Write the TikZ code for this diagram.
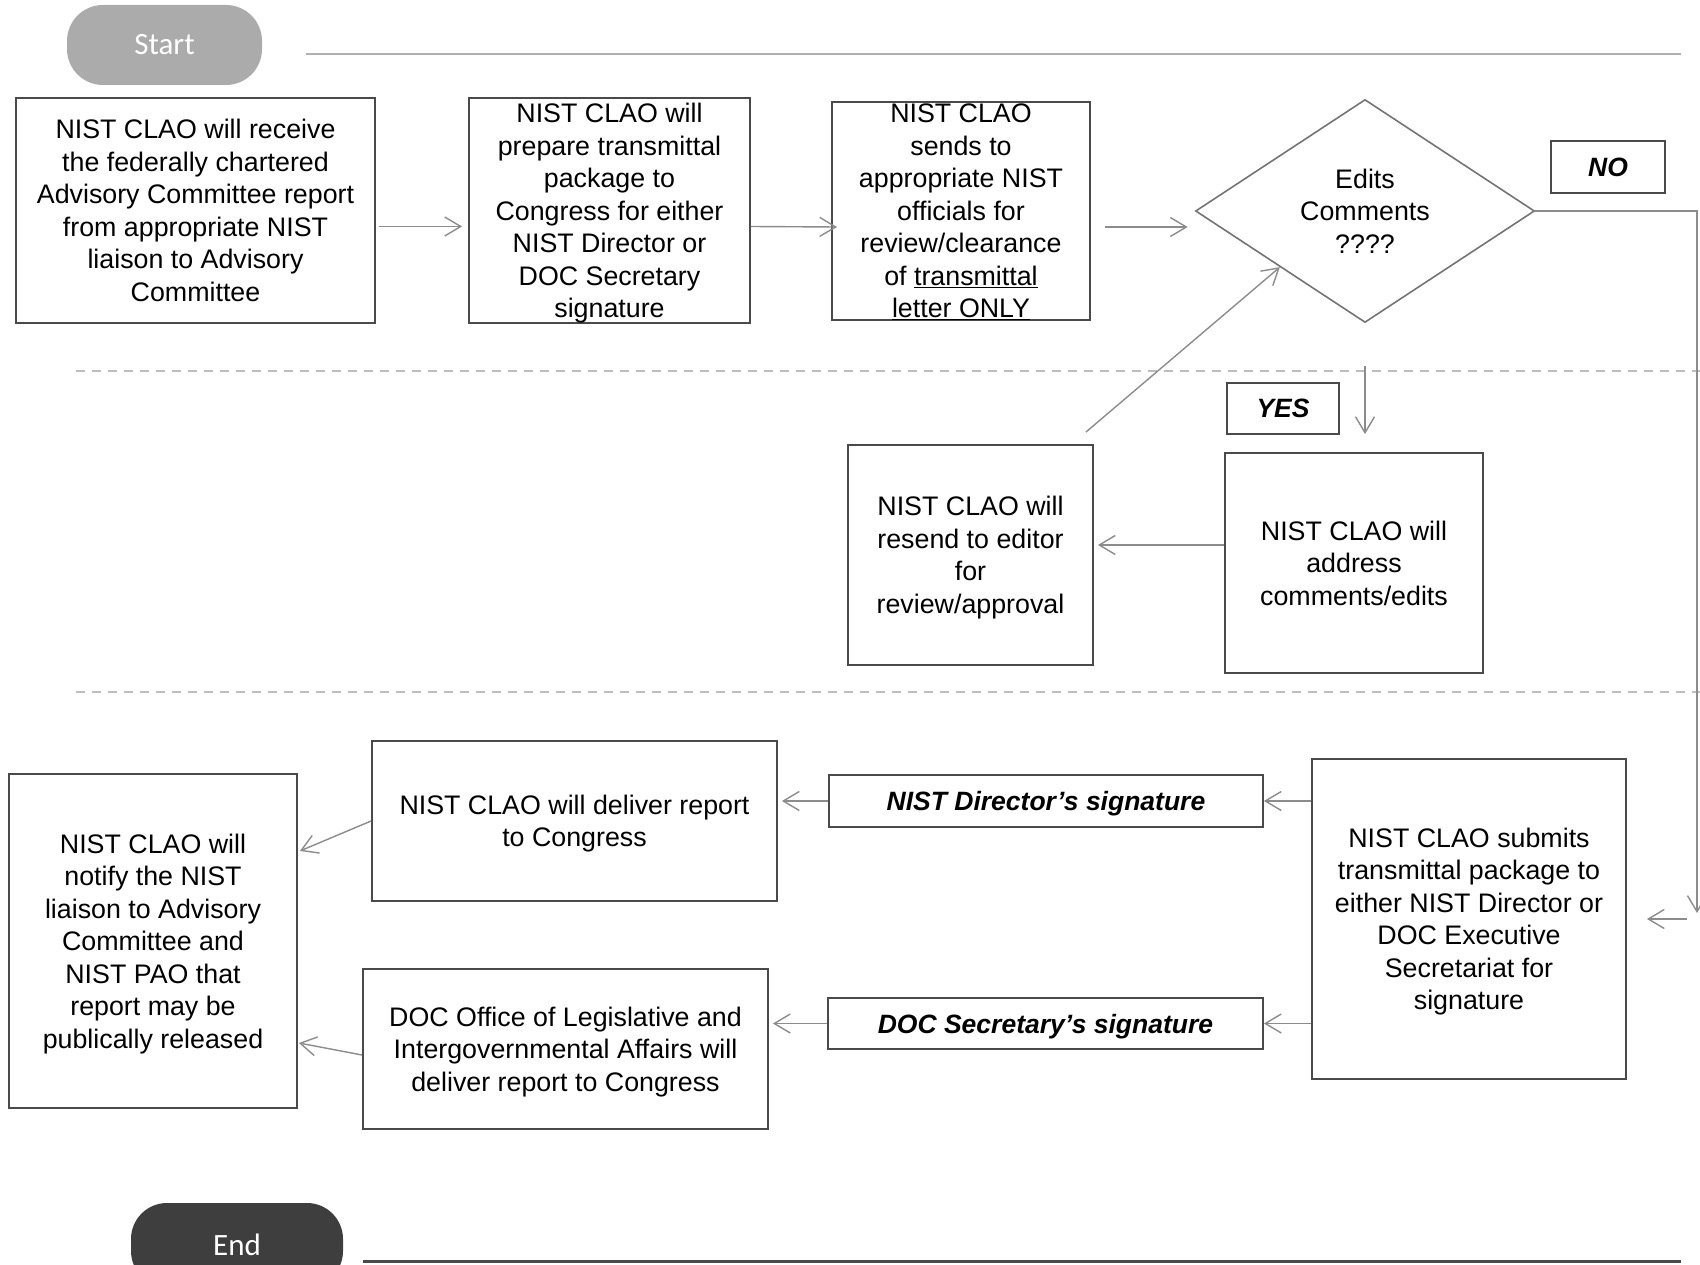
\documentclass[tikz,border=0pt]{standalone}
\usepackage{fontspec}
\setmainfont{Liberation Sans}
\newfontfamily\pillfont{Carlito}
\usetikzlibrary{shapes.geometric,arrows.meta,calc}
\definecolor{boxline}{HTML}{4A4A4A}
\definecolor{diaedge}{HTML}{747474}
\definecolor{conn}{HTML}{8C8C8C}
\definecolor{sepline}{HTML}{BDBDBD}
\definecolor{topline}{HTML}{B0B0B0}
\definecolor{startfill}{HTML}{ABABAB}
\definecolor{endfill}{HTML}{3E3E3E}
\begin{document}
\begin{tikzpicture}[x=1pt,y=-1pt,
  txt/.style={font=\fontsize{26.8}{32.5}\selectfont, text=black, align=center, inner sep=0pt, text depth=0pt},
  box/.style={txt, draw=boxline, line width=1.8pt, rectangle},
  tagbox/.style={box, font=\fontsize{26.5}{32.5}\selectfont\bfseries\itshape},
  pill/.style={rounded corners=36pt, text=white, font=\pillfont\fontsize{31}{36}\selectfont, inner sep=0pt},
  arr/.style={draw=conn, line width=1.4pt, -{Straight Barb[length=16pt,width=19pt,line width=1.4pt]}},
  sep/.style={draw=sepline, line width=1.3pt, dash pattern=on 9pt off 7pt},
]
\clip (0,0) rectangle (1700,1265);
\fill[white] (0,0) rectangle (1700,1265);

% separators
\draw[draw=topline, line width=1.3pt] (306,54) -- (1681,54);
\draw[sep] (76,371) -- (1700,371);
\draw[sep] (76,692) -- (1700,692);
\draw[draw=boxline, line width=3pt] (363,1261) -- (1681,1261);

% terminators
\node[pill, fill=startfill, minimum width=195pt, minimum height=80pt] (start) at (164.5,45) {Start};
\node[pill, fill=endfill, minimum width=212pt, minimum height=84pt] (endn) at (237,1245) {End};

% top row
\node[box, minimum width=359pt, minimum height=225pt] (b1) at (195.5,210.5)
  {NIST CLAO will receive\\the federally chartered\\Advisory Committee report\\from appropriate NIST\\liaison to Advisory\\Committee};
\node[box, minimum width=281pt, minimum height=225pt, inner ysep=-4pt] (b2) at (609.5,210.5)
  {NIST CLAO will\\prepare transmittal\\package to\\Congress for either\\NIST Director or\\DOC Secretary\\signature};
\node[box, minimum width=258pt, minimum height=218pt, inner ysep=-6pt] (b3) at (961,211)
  {NIST CLAO\\sends to\\appropriate NIST\\officials for\\review/clearance\\of \underline{transmittal}\\\underline{letter ONLY}};
\node[txt, shape=diamond, draw=diaedge, line width=1.6pt, minimum width=339pt, minimum height=223pt] (dia) at (1365,211)
  {Edits\\Comments\\????};
\node[tagbox, minimum width=114pt, minimum height=52pt] (no) at (1608,167) {NO};
\node[tagbox, minimum width=112pt, minimum height=51pt] (yes) at (1283,408.5) {YES};

% middle row
\node[box, minimum width=258pt, minimum height=220pt] (addr) at (1354,563)
  {NIST CLAO will\\address\\comments/edits};
\node[box, minimum width=245pt, minimum height=220pt] (resend) at (970.5,555)
  {NIST CLAO will\\resend to editor\\for\\review/approval};

% bottom row
\node[box, minimum width=314pt, minimum height=320pt] (sub) at (1469,919)
  {NIST CLAO submits\\transmittal package to\\either NIST Director or\\DOC Executive\\Secretariat for\\signature};
\node[tagbox, minimum width=434pt, minimum height=52pt] (sig1) at (1046,801) {NIST Director’s signature};
\node[tagbox, minimum width=435pt, minimum height=51pt] (sig2) at (1045.5,1023.5) {DOC Secretary’s signature};
\node[box, minimum width=405pt, minimum height=160pt] (deliver) at (574.5,821)
  {NIST CLAO will deliver report\\to Congress};
\node[box, minimum width=405pt, minimum height=160pt] (office) at (565.5,1049)
  {DOC Office of Legislative and\\Intergovernmental Affairs will\\deliver report to Congress};
\node[box, minimum width=288pt, minimum height=334pt] (notify) at (153,941)
  {NIST CLAO will\\notify the NIST\\liaison to Advisory\\Committee and\\NIST PAO that\\report may be\\publically released};

% connectors
\draw[arr] ($(b1.east)+(3,16)$) -- ($(b2.west)+(-6,16)$);
\draw[arr] ($(b2.east)+(0,16)$) -- ($(b3.west)+(6,16)$);
\draw[arr] ($(b3.east)+(14,16)$) -- ($(dia.west)+(-7,16)$);
\coordinate (noturn) at (1697,913);
\coordinate (noin) at (1687,919);
\draw[arr] (dia.east) -- (noturn |- dia.east) -- (noturn);
\draw[arr] (noin) -- ($(sub.east)+(20,0)$);
\draw[arr, shorten <=43pt, shorten >=18pt] (dia.south) -- (dia.south |- addr.north);
\draw[arr] (addr.west |- 0,545) -- ($(resend.east |- 0,545)+(4,0)$);
\draw[arr] ($(resend.north east)+(-8,-12)$) -- (dia.south west);
\draw[arr] (sub.west |- sig1.east) -- (sig1.east);
\draw[arr] (sig1.west) -- ($(deliver.east |- sig1.west)+(4,0)$);
\draw[arr] (sub.west |- sig2.east) -- (sig2.east);
\draw[arr] (sig2.west) -- ($(office.east |- sig2.west)+(4,0)$);
\draw[arr] (deliver.west) -- ($(notify.east)+(2,-90)$);
\draw[arr] ($(office.west)+(0,6)$) -- ($(notify.east)+(1,102)$);
\end{tikzpicture}
\end{document}
